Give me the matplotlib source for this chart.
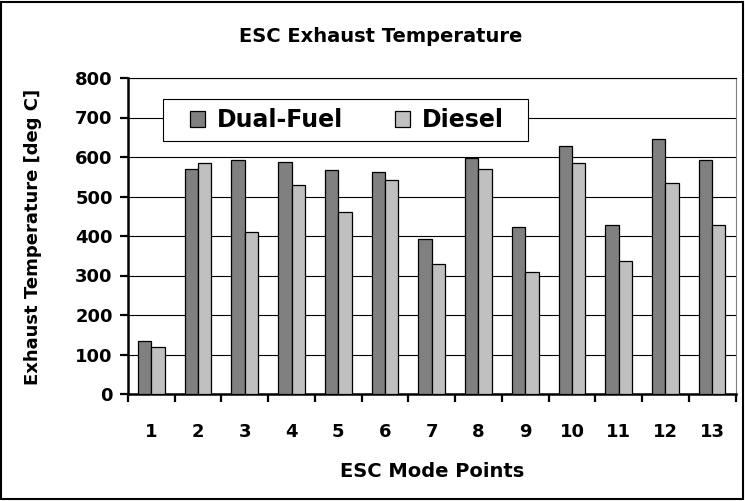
import matplotlib
matplotlib.use("Agg")
import matplotlib.pyplot as plt
import numpy as np
from matplotlib.patches import Rectangle

# ---- data ----
modes = [str(i) for i in range(1, 14)]
dual_fuel = [134, 570, 592, 588, 567, 562, 393, 598, 422, 627, 429, 645, 592]
diesel = [120, 584, 411, 530, 462, 541, 329, 570, 308, 584, 336, 534, 429]
y_ticks = [0, 100, 200, 300, 400, 500, 600, 700, 800]

DARK = "#808080"
LIGHT = "#c0c0c0"
BAR_W = 0.286

plt.rcParams["font.family"] = ["DejaVu Sans"]
plt.rcParams["font.weight"] = "bold"

W, H = 745, 501
fig = plt.figure(figsize=(W / 100, H / 100), dpi=100)
fig.patch.set_facecolor("white")
fig.patches.append(Rectangle((0.002, 0.003), 0.995, 0.994, transform=fig.transFigure,
                             fill=False, edgecolor="black", linewidth=1.5))

# plot area in pixel terms: x 128..735.5, y 78..394
ax = fig.add_axes((128 / W, 1 - 394 / H, 607.5 / W, 316 / H))
x = np.arange(1, len(modes) + 1)
ax.bar(x - BAR_W / 2, dual_fuel, BAR_W, color=DARK, edgecolor="black", linewidth=0.9,
       label="Dual-Fuel", zorder=3)
ax.bar(x + BAR_W / 2, diesel, BAR_W, color=LIGHT, edgecolor="black", linewidth=0.9,
       label="Diesel", zorder=3)

ax.set_xlim(0.5, len(modes) + 0.5)
ax.set_ylim(0, 800)
ax.set_yticks(y_ticks)
ax.yaxis.grid(True, color="black", linewidth=0.8, zorder=0)
ax.set_axisbelow(True)

# category separators as major ticks, labels on minor ticks
ax.set_xticks(np.arange(0.5, len(modes) + 1, 1.0))
ax.set_xticklabels([])
ax.set_xticks(x, minor=True)
ax.set_xticklabels(modes, minor=True)
ax.tick_params(axis="x", which="major", direction="out", length=6, width=1.6)
ax.tick_params(axis="x", which="minor", length=0, pad=21, labelsize=13)
ax.tick_params(axis="y", direction="out", length=6, width=1.6, labelsize=13, pad=5)

for side in ("left", "bottom"):
    ax.spines[side].set_linewidth(1.8)
ax.spines["top"].set_linewidth(0.8)
ax.spines["right"].set_linewidth(0.8)
ax.spines["right"].set_color("#808080")

# legend: white box drawn by hand so it sits exactly where the reference has it
ax.add_patch(Rectangle(((163 - 128) / 607.5, (394 - 141) / 316), 365 / 607.5, 42 / 316,
                       transform=ax.transAxes, facecolor="white", edgecolor="black",
                       linewidth=0.8, zorder=4))
leg = ax.legend(loc="center left", bbox_to_anchor=((190 - 128) / 607.5, (394 - 120) / 316),
                ncol=2, frameon=False, prop={"size": 17, "weight": "bold"},
                handlelength=0.64, handleheight=0.64, handletextpad=0.5, columnspacing=2.2,
                borderpad=0, borderaxespad=0)
leg.set_zorder(5)

fig.text(381 / W, 1 - 42 / H, "ESC Exhaust Temperature", ha="center", va="baseline",
         fontsize=14, fontweight="bold")
fig.text(432 / W, 1 - 477 / H, "ESC Mode Points", ha="center", va="baseline",
         fontsize=14, fontweight="bold")
fig.text(33 / W, 1 - 237 / H, "Exhaust Temperature [deg C]", ha="center", va="center",
         rotation=90, fontsize=13, fontweight="bold")

fig.savefig("out.png", dpi=100)
